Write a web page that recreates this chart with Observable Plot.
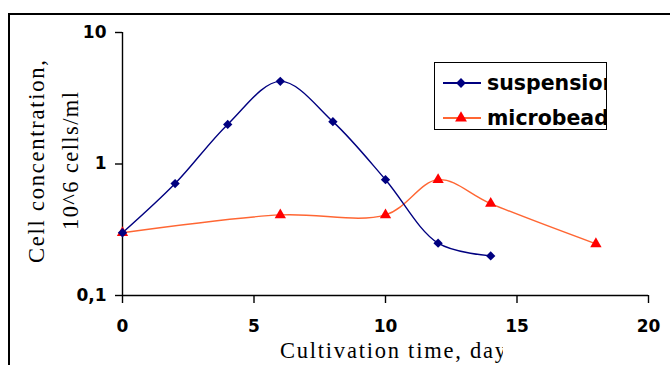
<!DOCTYPE html>
<html>
<head>
<meta charset="utf-8">
<script src="https://cdn.jsdelivr.net/npm/d3@7"></script>
<script src="https://cdn.jsdelivr.net/npm/@observablehq/plot@0.6"></script>
<style>
  html, body { margin: 0; padding: 0; background: #fff; }
  #wrap { position: relative; width: 670px; height: 365px; overflow: hidden; background: #fff; }
  #frame { position: absolute; left: 8px; top: 13px; width: 700px; height: 400px;
           border-top: 2px solid #000; border-left: 2px solid #000; box-sizing: border-box; pointer-events: none; }
  #legend { position: absolute; left: 434px; top: 62px; width: 173px; height: 68px; box-sizing: border-box;
            border: 1.6px solid #000; background: #fff; overflow: hidden;
            font-family: "DejaVu Sans", sans-serif; font-weight: bold; font-size: 20.5px; color: #000; }
  .row { position: absolute; left: 0; white-space: nowrap; height: 24px; width: 200px; }
  .row svg { position: absolute; left: 0; top: 0; }
  .row span { position: absolute; left: 52px; top: 0; line-height: 24px; }
</style>
</head>
<body>
<div id="wrap"></div>
<script>
// ---- data ----
const suspDays = [0, 2, 4, 6, 8, 10, 12, 14];
const suspValues = [0.30, 0.71, 2.0, 4.25, 2.1, 0.76, 0.25, 0.20];
const microDays = [0, 6, 10, 12, 14, 18];
const microValues = [0.30, 0.41, 0.41, 0.76, 0.50, 0.247];
const seriesNames = ["suspension", "microbeads"];
const xTicks = [0, 5, 10, 15, 20];
const yTicks = [0.1, 1, 10];
const yTickLabels = ["0,1", "1", "10"];
const xTitle = "Cultivation time, day";
const yTitle = ["Cell concentration,", "10^6 cells/ml"];

const blue = "#000080", redLine = "#FF6633", redMark = "#FF0000";

const suspData = suspDays.map((d, i) => ({day: d, v: suspValues[i]}));
const microData = microDays.map((d, i) => ({day: d, v: microValues[i]}));

const chart = Plot.plot({
  width: 670, height: 365,
  marginLeft: 122, marginRight: 22, marginTop: 32, marginBottom: 70,
  style: {fontFamily: "DejaVu Sans", fontSize: "17px", fontWeight: "bold", color: "#000", background: "transparent", overflow: "visible"},
  x: {domain: [0, 20]},
  y: {type: "log", domain: [0.1, 10]},
  marks: [
    Plot.axisX({ticks: xTicks, tickSize: 8, tickPadding: 16, label: null, strokeWidth: 1.4, tickFormat: d => String(d)}),
    Plot.axisY({ticks: yTicks, tickSize: 7, tickPadding: 9, label: null, strokeWidth: 1.4,
                tickFormat: d => yTickLabels[yTicks.indexOf(d)]}),
    Plot.ruleX([0], {y1: 0.1, y2: 10, strokeWidth: 1.4}),
    Plot.ruleY([0.1], {x1: 0, x2: 20, strokeWidth: 1.4}),
    Plot.line(microData, {x: "day", y: "v", stroke: redLine, strokeWidth: 1.4, curve: "catmull-rom"}),
    Plot.line(suspData, {x: "day", y: "v", stroke: blue, strokeWidth: 1.4, curve: "catmull-rom"}),
    Plot.dot(microData, {x: "day", y: "v", symbol: "triangle", r: 4.2, fill: redMark, stroke: "none"}),
    Plot.dot(suspData, {x: "day", y: "v", symbol: "diamond2", r: 4.2, fill: blue, stroke: "none"})
  ]
});

const svg = d3.select(chart);
const defs = svg.append("defs");
defs.append("clipPath").attr("id", "xtclip").append("rect")
  .attr("x", 0).attr("y", 300).attr("width", 503).attr("height", 65);

svg.append("text")
  .attr("x", 280).attr("y", 358)
  .attr("text-anchor", "start")
  .attr("clip-path", "url(#xtclip)")
  .attr("font-family", "Liberation Serif, Times New Roman, serif")
  .attr("font-weight", "normal").attr("font-size", 22.5)
  .attr("textLength", 226).attr("lengthAdjust", "spacing")
  .text(xTitle);

const yPos = [[44, 263, 203], [78, 230, 138]];
yTitle.forEach((t, i) => {
  const [bx, by, len] = yPos[i];
  svg.append("text")
    .attr("transform", `translate(${bx},${by}) rotate(-90)`)
    .attr("text-anchor", "start")
    .attr("font-family", "Liberation Serif, Times New Roman, serif")
    .attr("font-weight", "normal").attr("font-size", 22.5)
    .attr("textLength", len).attr("lengthAdjust", "spacing")
    .text(t);
});

const wrap = document.getElementById("wrap");
wrap.appendChild(chart);
chart.style.position = "absolute"; chart.style.left = "0"; chart.style.top = "0";

const frame = document.createElement("div");
frame.id = "frame";
wrap.appendChild(frame);

// legend
const legend = document.createElement("div");
legend.id = "legend";
const rows = [
  {name: seriesNames[0], line: blue, mark: blue, sym: d3.symbolDiamond2, top: 20},
  {name: seriesNames[1], line: redLine, mark: redMark, sym: d3.symbolTriangle, top: 55}
];
rows.forEach(r => {
  const row = document.createElement("div");
  row.className = "row";
  row.style.top = (r.top - 12) + "px";
  const s = d3.create("svg").attr("width", 50).attr("height", 24);
  s.append("line").attr("x1", 8).attr("x2", 46).attr("y1", 12).attr("y2", 12)
    .attr("stroke", r.line).attr("stroke-width", 2.2);
  s.append("path").attr("d", d3.symbol(r.sym, Math.PI * 4.4 * 4.4)())
    .attr("transform", "translate(26,12)").attr("fill", r.mark);
  row.appendChild(s.node());
  const sp = document.createElement("span");
  sp.textContent = r.name;
  row.appendChild(sp);
  legend.appendChild(row);
});
wrap.appendChild(legend);
</script>
</body>
</html>
